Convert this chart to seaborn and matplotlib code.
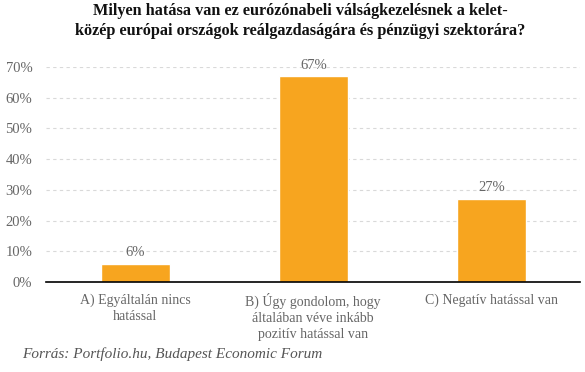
import matplotlib
matplotlib.use("Agg")
import matplotlib.pyplot as plt
import seaborn as sns
import pandas as pd

categories = ["A) Egyáltalán nincs\nhatással",
              "B) Úgy gondolom, hogy\náltalában véve inkább\npozitív hatással van",
              "C) Negatív hatással van"]
values = [6, 67, 27]
yticks = [0, 10, 20, 30, 40, 50, 60, 70]
title = "Milyen hatása van ez eurózónabeli válságkezelésnek a kelet-\nközép európai országok reálgazdaságára és pénzügyi szektorára?"
source = "Forrás: Portfolio.hu, Budapest Economic Forum"

sns.set_theme(style="white")
plt.rcParams['font.family'] = ['Liberation Serif', 'DejaVu Serif']

df = pd.DataFrame({"cat": categories, "val": values})
fig = plt.figure(figsize=(5.85, 3.72), dpi=100)
ax = fig.add_axes([0.079, 0.242, 0.913, 0.578])
sns.barplot(data=df, x="cat", y="val", color="#F7A51F", width=0.39, ax=ax, saturation=1)
ax.set_ylim(0, 70)
ax.set_yticks(yticks)
ax.set_yticklabels([f"{t}%" for t in yticks], color="#666666", fontsize=10.5)
ax.tick_params(axis='x', colors="#666666", labelsize=10, length=0, pad=8)
for lbl in ax.get_xticklabels():
    lbl.set_linespacing(1.3)
ax.tick_params(axis='y', length=0, pad=10)
ax.set_xlabel("")
ax.set_ylabel("")
for t in yticks[1:]:
    ax.axhline(t, color="#d9d9d9", linestyle=(0, (3, 3)), linewidth=0.8, zorder=0)
for s in ["top", "right", "left"]:
    ax.spines[s].set_visible(False)
ax.spines["bottom"].set_color("black")
ax.spines["bottom"].set_linewidth(1.2)
for p, v in zip(ax.patches, values):
    ax.text(p.get_x() + p.get_width() / 2, v + 1.5, f"{v}%", ha="center", va="bottom",
            color="#666666", fontsize=10.5)
fig.text(0.513, 0.992, title, ha="center", va="top", fontsize=11.7, fontweight="bold",
         color="#111111", linespacing=1.3)
fig.text(0.038, 0.03, source, ha="left", va="bottom", fontsize=11, style="italic",
         color="#555555")
fig.savefig("out.png", dpi=100)
